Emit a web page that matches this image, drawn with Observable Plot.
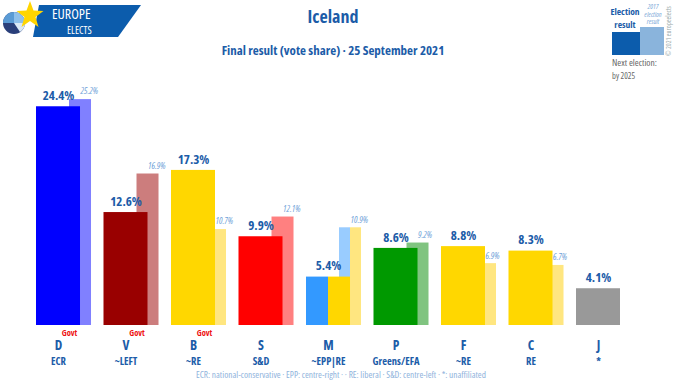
<!DOCTYPE html>
<html>
<head>
<meta charset="utf-8">
<script src="https://cdn.jsdelivr.net/npm/d3@7"></script>
<script src="https://cdn.jsdelivr.net/npm/@observablehq/plot@0.6"></script>
<style>
  html, body { margin: 0; padding: 0; background: #fff; }
  #wrap { position: relative; width: 680px; height: 389px; overflow: hidden;
    font-family: "Open Sans", sans-serif; font-stretch: condensed; }
  #wrap svg, #wrap svg text { font-stretch: condensed; }
  #chart { position: absolute; left: 0; top: 0; }
  .t { position: absolute; white-space: nowrap; color: #1c5ca8; font-weight: bold; text-align: center; }
  #title { left: 233px; width: 200px; top: 4px; font-size: 18px; line-height: 24px; }
  #subtitle { left: 183px; width: 300px; top: 41px; font-size: 13px; line-height: 18px; }
  #footer { left: 141px; width: 400px; top: 369px; font-size: 9.3px; line-height: 12px; font-weight: normal; color: #8fb3dc; }
  #deco { position: absolute; left: 0; top: 0; }
</style>
</head>
<body>
<div id="wrap">
  <div id="chart"></div>
  <svg id="deco" width="680" height="100" font-family="Open Sans, sans-serif">
    <polygon points="39,5 141,5 118,37 33,37" fill="#0c5cac"/>
    <circle cx="14" cy="23" r="11" fill="#2a3f7a"/>
    <path d="M14,23 L3,23 A11,11 0 0,1 14,12 Z" fill="#5a9bd5"/>
    <path d="M14,23 L14,12 A11,11 0 0,1 25,23 Z" fill="#8fc0ea"/>
    <path d="M14,23 L25,23 A11,11 0 0,1 20,32 Z" fill="#dbe9f6"/>
    <polygon points="30,1 33.5,10.5 43.5,11 35.5,17 38.5,27 30,21 21.5,27 24.5,17 16.5,11 26.5,10.5" fill="#ffd500"/>
    <text x="52" y="19" font-size="14" fill="#fff">EUROPE</text>
    <text x="67" y="34" font-size="10.3" fill="#fff">ELECTS</text>

    <rect x="612" y="32" width="28" height="23" fill="#0c5cac"/>
    <rect x="640" y="27" width="24" height="28" fill="#8ab4dc"/>
    <text x="625" y="15" text-anchor="middle" fill="#1c5ca8" font-size="9.5" font-weight="bold">Election</text>
    <text x="625" y="28" text-anchor="middle" fill="#1c5ca8" font-size="9.5" font-weight="bold">result</text>
    <text text-anchor="middle" fill="#7aa8d8" font-size="7" font-style="italic"><tspan x="653" y="9">2017</tspan><tspan x="653" y="16.5">election</tspan><tspan x="653" y="24">result</tspan></text>
    <text transform="translate(671,56) rotate(-90)" fill="#9aa" font-size="6.8">© 2021 europeelects</text>
    <text fill="#666"><tspan x="612" y="66" font-size="9.5">Next election:</tspan><tspan x="612" y="79" font-size="8.5">by 2025</tspan></text>
  </svg>
  <div id="title" class="t">Iceland</div>
  <div id="subtitle" class="t">Final result (vote share) · 25 September 2021</div>
  <div id="footer" class="t">ECR: national-conservative · EPP: centre-right · · RE: liberal · S&amp;D: centre-left · *: unaffiliated</div>
</div>
<script>
const parties = ["D", "V", "B", "S", "M", "P", "F", "C", "J"];
const groups = ["ECR", "~LEFT", "~RE", "S&D", "~EPP|RE", "Greens/EFA", "~RE", "RE", "*"];
const result = [24.4, 12.6, 17.3, 9.9, 5.4, 8.6, 8.8, 8.3, 4.1];
const previous = [25.2, 16.9, 10.7, 12.1, 10.9, 9.2, 6.9, 6.7, null];
const govt = ["Govt", "Govt", "Govt", "", "", "", "", "", ""];
const colors = ["#0000ff", "#990000", "#ffd700", "#ff0000", "#3399ff", "#009900", "#ffd700", "#ffd700", "#999999"];
const secondColors = [null, null, null, null, "#ffd700", null, null, null, null];
const prevColors = ["#8080ff", "#cc7d7d", "#ffe680", "#ff8080", "#99ccff", "#80c480", "#ffe680", "#ffe680", null];
const prevSecondColors = [null, null, null, null, "#ffe680", null, null, null, null];

const H = 0.326; // half width of main bar (in category units)
const P1 = 0.163, P2 = 0.489; // previous-result bar extent

const rows = parties.map((p, i) => ({
  i, party: p, group: groups[i], v: result[i], prev: previous[i], govt: govt[i]
}));

const mainRects = [];
const prevRects = [];
rows.forEach(r => {
  const i = r.i;
  if (secondColors[i]) {
    mainRects.push({x1: i - H, x2: i, y: r.v, fill: colors[i]});
    mainRects.push({x1: i, x2: i + H, y: r.v, fill: secondColors[i]});
  } else {
    mainRects.push({x1: i - H, x2: i + H, y: r.v, fill: colors[i]});
  }
  if (r.prev != null) {
    if (prevSecondColors[i]) {
      const mid = (P1 + P2) / 2;
      prevRects.push({x1: i + P1, x2: i + mid, y: r.prev, fill: prevColors[i]});
      prevRects.push({x1: i + mid, x2: i + P2, y: r.prev, fill: prevSecondColors[i]});
    } else {
      prevRects.push({x1: i + P1, x2: i + P2, y: r.prev, fill: prevColors[i]});
    }
  }
});

const blue = "#1c5ca8";

const chart = Plot.plot({
  width: 680,
  height: 389,
  marginTop: 74,
  marginBottom: 64,
  marginLeft: 24.25,
  marginRight: 48.25,
  x: {domain: [-0.5, 8.5], axis: null},
  y: {domain: [0, 28], axis: null},
  style: {fontFamily: "Open Sans, sans-serif", background: "transparent"},
  marks: [
    Plot.rectY(prevRects, {x1: "x1", x2: "x2", y1: 0, y2: "y", fill: d => d.fill}),
    Plot.rectY(mainRects, {x1: "x1", x2: "x2", y1: 0, y2: "y", fill: d => d.fill}),
    Plot.text(rows, {x: "i", y: "v", text: d => d.v.toFixed(1) + "%", dy: -11,
      fill: blue, fontWeight: "bold", fontSize: 13}),
    Plot.text(rows.filter(d => d.prev != null), {x: d => d.i + H, y: "prev",
      text: d => d.prev.toFixed(1) + "%", dy: -8, textAnchor: "start",
      fill: "#6f9fd8", fontStyle: "italic", fontSize: 9}),
    Plot.text(rows.filter(d => d.govt), {x: d => d.i + P1, y: 0, text: "govt", dy: 8,
      fill: "#ee1111", fontWeight: "bold", fontSize: 8.5}),
    Plot.text(rows, {x: "i", y: 0, text: "party", dy: 20, fill: blue, fontWeight: "bold", fontSize: 13.5}),
    Plot.text(rows, {x: "i", y: 0, text: "group", dy: 36.5, fill: blue, fontWeight: "bold", fontSize: 10.5})
  ]
});
document.getElementById("chart").appendChild(chart);
</script>
</body>
</html>
